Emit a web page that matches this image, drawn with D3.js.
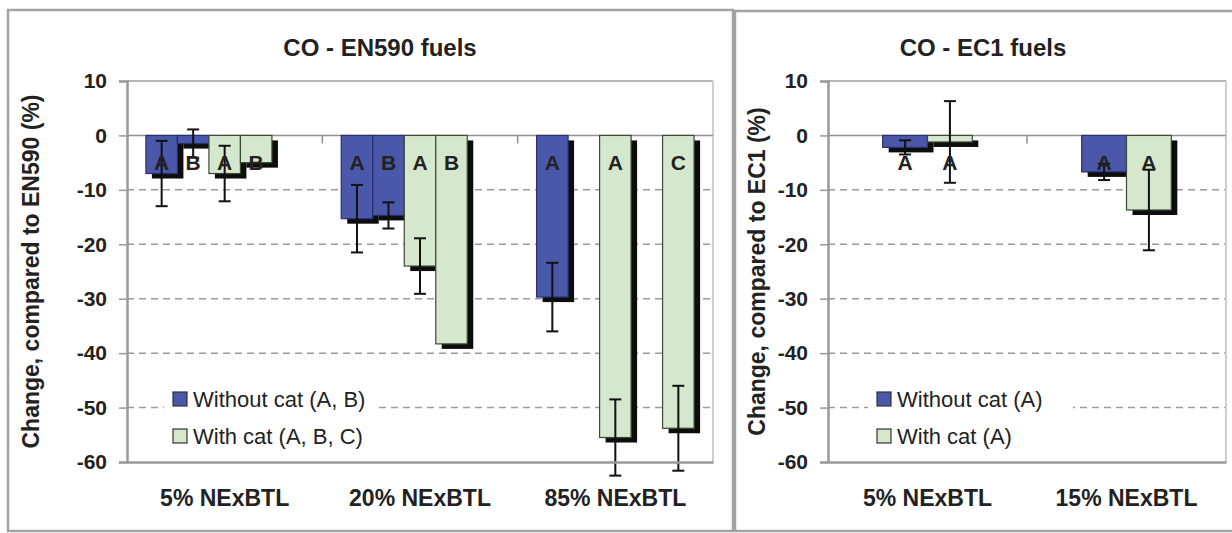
<!DOCTYPE html>
<html>
<head>
<meta charset="utf-8">
<script src="https://cdn.jsdelivr.net/npm/d3@7"></script>
<style>
    body { margin: 0; background: #fff; }
    svg text { font-family: "Liberation Sans", Arial, sans-serif; fill: #222; }
</style>
</head>
<body>
<svg id="chart" width="1232" height="533"></svg>
<script>
// ---- data ----
var yTicks = [10, 0, -10, -20, -30, -40, -50, -60];

// left panel: CO - EN590 fuels
var enCategories = ["5% NExBTL", "20% NExBTL", "85% NExBTL"];
var enSeriesType = ["without", "without", "with", "with", "with"];
var enLetters = ["A", "B", "A", "B", "C"];
var enValues = [
    [-7.0, -1.5, -7.0, -5.0, null],
    [-15.3, -14.7, -24.0, -38.3, null],
    [-29.7, null, -55.5, null, -53.8]
];
var enErrors = [
    [6.0, 2.6, 5.1, null, null],
    [6.2, 2.4, 5.1, null, null],
    [6.3, null, 7.0, null, 7.8]
];
var enLegend = ["Without cat (A, B)", "With cat (A, B, C)"];

// right panel: CO - EC1 fuels
var ecCategories = ["5% NExBTL", "15% NExBTL"];
var ecSeriesType = ["without", "with"];
var ecLetters = ["A", "A"];
var ecValues = [
    [-2.2, -1.2],
    [-6.7, -13.7]
];
var ecErrors = [
    [1.3, 7.5],
    [1.5, 7.4]
];
var ecLegend = ["Without cat (A)", "With cat (A)"];

// ---- styling ----
var fillColor = { without: "#4b57a8", with: "#d5e7cc" };
var plotTop = 81, plotBottom = 462;
var svg = d3.select("#chart");

function drawPanel(opt) {
    var g = svg.append("g");

    // panel frame
    g.append("rect")
        .attr("x", opt.frame[0]).attr("y", opt.frame[1])
        .attr("width", opt.frame[2]).attr("height", opt.frame[3])
        .attr("fill", "#fff")
        .attr("stroke", "#a3a3a3")
        .attr("stroke-width", 2.5);

    var x0 = d3.scaleBand()
        .domain(opt.categories)
        .range([opt.left, opt.right]);
    var x1 = d3.scaleBand()
        .domain(d3.range(opt.types.length))
        .range([0, x0.bandwidth()])
        .paddingInner(0)
        .paddingOuter(opt.outerPad);
    var y = d3.scaleLinear()
        .domain([d3.min(yTicks), d3.max(yTicks)])
        .range([plotBottom, plotTop]);

    // dashed gridlines
    g.append("g").selectAll("line")
        .data(yTicks.filter(function (d) { return d < 0 && d > -60; }))
        .enter().append("line")
        .attr("x1", opt.left).attr("x2", opt.right)
        .attr("y1", function (d) { return y(d); })
        .attr("y2", function (d) { return y(d); })
        .attr("stroke", "#9a9a9a")
        .attr("stroke-width", 1.5)
        .attr("stroke-dasharray", "7,5");

    // plot frame (top + right light, left + bottom are axes)
    g.append("line")
        .attr("x1", opt.left).attr("x2", opt.right)
        .attr("y1", plotTop).attr("y2", plotTop)
        .attr("stroke", "#b5b5b5").attr("stroke-width", 2);
    g.append("line")
        .attr("x1", opt.right).attr("x2", opt.right)
        .attr("y1", plotTop).attr("y2", plotBottom)
        .attr("stroke", "#cfcfcf").attr("stroke-width", 2);

    // zero line + category separators
    g.append("line")
        .attr("x1", opt.left).attr("x2", opt.right)
        .attr("y1", y(0)).attr("y2", y(0))
        .attr("stroke", "#8f8f8f").attr("stroke-width", 1.5);
    g.append("g").selectAll("line")
        .data(opt.categories.slice(1))
        .enter().append("line")
        .attr("x1", function (d) { return x0(d); })
        .attr("x2", function (d) { return x0(d); })
        .attr("y1", y(0)).attr("y2", y(0) + 8)
        .attr("stroke", "#8f8f8f").attr("stroke-width", 1.5);

    // flatten to one record per bar
    var bars = [];
    opt.categories.forEach(function (c, i) {
        opt.types.forEach(function (t, j) {
            if (opt.values[i][j] == null) return;
            bars.push({ cat: c, slot: j, type: t, letter: opt.letters[j],
                        value: opt.values[i][j], err: opt.errors[i][j] });
        });
    });
    var bx = function (d) { return x0(d.cat) + x1(d.slot); };
    var bw = x1.bandwidth();

    // drop shadows
    g.append("g").selectAll("rect")
        .data(bars)
        .enter().append("rect")
        .attr("x", function (d) { return bx(d) + 6; })
        .attr("y", y(0) + 5)
        .attr("width", bw)
        .attr("height", function (d) { return y(d.value) - y(0); })
        .attr("fill", "#0d0d0d");

    // bars
    g.append("g").selectAll("rect")
        .data(bars)
        .enter().append("rect")
        .attr("x", bx)
        .attr("y", y(0))
        .attr("width", bw)
        .attr("height", function (d) { return y(d.value) - y(0); })
        .attr("fill", function (d) { return fillColor[d.type]; })
        .attr("stroke", function (d) { return d.type == "with" ? "#3c4a36" : "#28306e"; })
        .attr("stroke-width", 1.2);

    // error bars
    var eb = g.append("g").selectAll("g")
        .data(bars.filter(function (d) { return d.err != null; }))
        .enter().append("g")
        .attr("stroke", "#111")
        .attr("stroke-width", 2);
    eb.append("line")
        .attr("x1", function (d) { return bx(d) + bw / 2; })
        .attr("x2", function (d) { return bx(d) + bw / 2; })
        .attr("y1", function (d) { return y(d.value + d.err); })
        .attr("y2", function (d) { return y(d.value - d.err); });
    eb.selectAll("line.cap")
        .data(function (d) { return [d.value + d.err, d.value - d.err].map(function (v) { return { x: bx(d) + bw / 2, v: v }; }); })
        .enter().append("line")
        .attr("class", "cap")
        .attr("x1", function (d) { return d.x - 6; })
        .attr("x2", function (d) { return d.x + 6; })
        .attr("y1", function (d) { return y(d.v); })
        .attr("y2", function (d) { return y(d.v); });

    // letter labels
    g.append("g").selectAll("text")
        .data(bars)
        .enter().append("text")
        .attr("x", function (d) { return bx(d) + bw / 2; })
        .attr("y", y(0) + 27)
        .attr("dy", "0.36em")
        .attr("text-anchor", "middle")
        .style("font-size", "21px")
        .style("font-weight", "bold")
        .text(function (d) { return d.letter; });

    // y axis
    var yAxis = g.append("g")
        .attr("transform", "translate(" + opt.left + ",0)")
        .call(d3.axisLeft(y).tickValues(yTicks).tickSize(8).tickPadding(12).tickFormat(d3.format("d")));
    yAxis.select(".domain").attr("stroke", "#999").attr("stroke-width", 2.5);
    yAxis.selectAll(".tick line").attr("stroke", "#999").attr("stroke-width", 1.5);
    yAxis.selectAll(".tick text")
        .style("font-size", "21px").style("font-weight", "bold")
        .text(function (d) { return d; });

    // x axis at the bottom (labels only)
    var xAxis = g.append("g")
        .attr("transform", "translate(0," + plotBottom + ")")
        .call(d3.axisBottom(x0).tickSize(0).tickPadding(28));
    xAxis.select(".domain").attr("stroke", "#999").attr("stroke-width", 2.5);
    xAxis.selectAll(".tick text")
        .style("font-size", "23px").style("font-weight", "bold");

    // titles
    g.append("text")
        .attr("x", opt.titleX).attr("y", 47)
        .attr("dy", "0.36em")
        .attr("text-anchor", "middle")
        .style("font-size", "24px").style("font-weight", "bold")
        .text(opt.title);
    g.append("text")
        .attr("transform", "translate(" + opt.yTitleX + "," + (plotTop + plotBottom) / 2 + ") rotate(-90)")
        .attr("dy", "0.36em")
        .attr("text-anchor", "middle")
        .style("font-size", "23px").style("font-weight", "bold")
        .text(opt.yTitle);

    // legend
    var lg = g.append("g");
    lg.append("rect")
        .attr("x", opt.legend[0]).attr("y", 381)
        .attr("width", opt.legend[1]).attr("height", 74)
        .attr("fill", "#fff");
    var item = lg.selectAll("g")
        .data(opt.legendText)
        .enter().append("g")
        .attr("transform", function (d, i) { return "translate(" + (opt.legend[0] + 9) + "," + (399 + i * 37) + ")"; });
    item.append("rect")
        .attr("x", 0).attr("y", -7)
        .attr("width", 14).attr("height", 14)
        .attr("fill", function (d, i) { return fillColor[i == 0 ? "without" : "with"]; })
        .attr("stroke", "#333").attr("stroke-width", 1.2);
    item.append("text")
        .attr("x", 20).attr("dy", "0.36em")
        .style("font-size", "22px")
        .text(function (d) { return d; });
}

drawPanel({
    frame: [8, 10, 725, 521],
    left: 127, right: 713, outerPad: 0.6,
    categories: enCategories, types: enSeriesType, letters: enLetters,
    values: enValues, errors: enErrors, legendText: enLegend,
    title: "CO - EN590 fuels", titleX: 380,
    yTitle: "Change, compared to EN590 (%)", yTitleX: 31,
    legend: [164, 213]
});

drawPanel({
    frame: [735, 11, 510, 520],
    left: 828, right: 1226, outerPad: 1.22,
    categories: ecCategories, types: ecSeriesType, letters: ecLetters,
    values: ecValues, errors: ecErrors, legendText: ecLegend,
    title: "CO - EC1 fuels", titleX: 983,
    yTitle: "Change, compared to EC1 (%)", yTitleX: 757,
    legend: [868, 205]
});
</script>
</body>
</html>
